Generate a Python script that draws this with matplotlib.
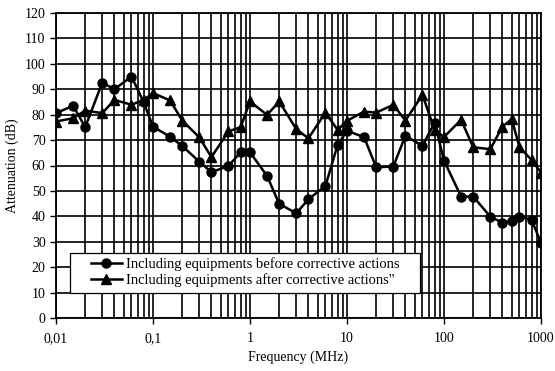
import matplotlib
matplotlib.use("Agg")
import matplotlib.pyplot as plt
from matplotlib.patches import Rectangle
from matplotlib.ticker import FixedLocator, FixedFormatter, LogLocator, NullFormatter

plt.rcParams["font.family"] = ["Liberation Serif", "DejaVu Serif"]

# frequencies (MHz)
freq = [0.01, 0.015, 0.02, 0.03, 0.04, 0.06, 0.08, 0.1, 0.15, 0.2, 0.3, 0.4,
        0.6, 0.8, 1, 1.5, 2, 3, 4, 6, 8, 10, 15, 20, 30, 40, 60, 80, 100,
        150, 200, 300, 400, 500, 600, 800, 1000]

before = [80.6, 83.5, 75.1, 92.6, 90.0, 95.0, 85.0, 75.3, 71.3, 67.7, 61.5, 57.4,
          59.8, 65.2, 65.2, 55.9, 44.9, 41.2, 46.7, 52.0, 68.1, 73.7, 71.1, 59.3,
          59.6, 71.7, 67.7, 76.9, 61.9, 47.8, 47.8, 39.9, 37.5, 38.3, 39.9, 38.6, 29.6]

after = [77.3, 78.6, 81.6, 80.6, 85.8, 83.9, 85.8, 88.5, 85.6, 77.7, 71.1, 63.3,
         73.4, 75.1, 85.2, 79.9, 85.2, 74.3, 70.7, 80.8, 74.0, 77.6, 81.2, 80.8,
         83.9, 77.7, 87.8, 74.0, 71.2, 78.0, 67.2, 66.4, 75.3, 78.2, 67.2, 62.2, 57.2]

x_ticks = [0.01, 0.1, 1, 10, 100, 1000]
x_labels = ["0,01", "0,1", "1", "10", "100", "1000"]
y_ticks = list(range(0, 121, 10))

fig = plt.figure(figsize=(5.55, 3.71), dpi=100)
ax = fig.add_axes([56 / 555, 1 - 318 / 371, 485 / 555, 305 / 371])

ax.plot(freq, before, color="black", lw=1.8, marker="o", ms=6.5,
        label="Including equipments before corrective actions")
ax.plot(freq, after, color="black", lw=1.8, marker="^", ms=6.5,
        label="Including equipments after corrective actions\"")

ax.set_xscale("log")
ax.set_xlim(0.01, 1000)
ax.set_ylim(0, 120)
ax.xaxis.set_major_locator(FixedLocator(x_ticks))
ax.xaxis.set_major_formatter(FixedFormatter(x_labels))
ax.xaxis.set_minor_locator(LogLocator(base=10, subs=range(2, 10)))
ax.xaxis.set_minor_formatter(NullFormatter())
ax.set_yticks(y_ticks)

ax.grid(True, which="major", color="black", lw=1.2)
ax.grid(True, which="minor", axis="x", color="black", lw=1.2)
ax.set_axisbelow(True)
for s in ax.spines.values():
    s.set_color("black")
    s.set_linewidth(1.3)

ax.tick_params(axis="both", which="major", direction="out", length=4,
               labelsize=10, width=1)
ax.tick_params(axis="x", which="minor", length=0)
ax.tick_params(axis="x", pad=6)

ax.set_xlabel("Frequency (MHz)", fontsize=10)
ax.set_ylabel("Attenuation (dB)", fontsize=10)

# legend box drawn by hand (wide side padding, tight top/bottom)
box = Rectangle((0.029, 0.082), 0.721, 0.131, transform=ax.transAxes,
                facecolor="white", edgecolor="black", lw=0.9, zorder=5)
ax.add_patch(box)
leg = ax.legend(loc="upper left", bbox_to_anchor=(0.072, 0.2), fontsize=10.5,
                frameon=False, handlelength=2.1, borderpad=0, borderaxespad=0,
                labelspacing=0.15, handletextpad=0.3)
leg.set_zorder(6)

fig.savefig("out.png", dpi=100)
